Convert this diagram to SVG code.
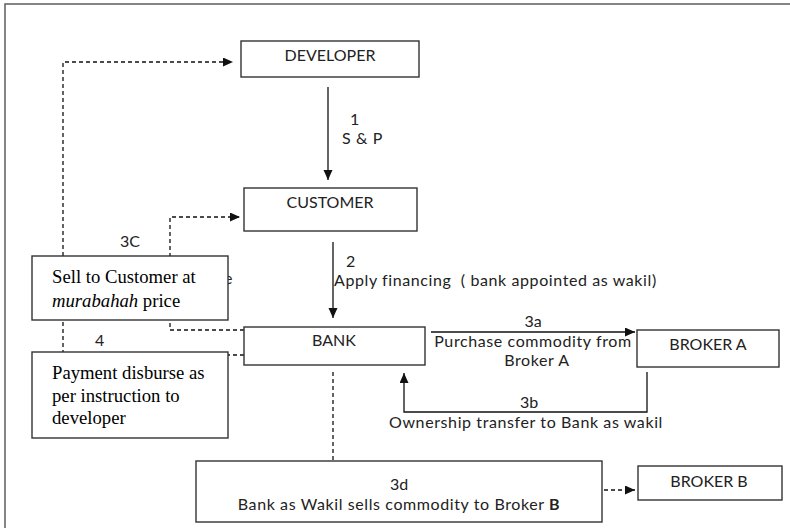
<svg xmlns="http://www.w3.org/2000/svg" width="790" height="528" viewBox="0 0 790 528">
<defs>
<style>
.box{fill:#fff;stroke:#333;stroke-width:1.4}
.lbl{font-family:Lato,"Liberation Sans",sans-serif;font-size:16px;fill:#222}
.sp{letter-spacing:0.6px}
.ser{font-family:"Liberation Serif","Times New Roman",serif;font-size:18.7px;fill:#000}
.ln{fill:none;stroke:#111;stroke-width:1.3}
.dash{fill:none;stroke:#111;stroke-width:1.3;stroke-dasharray:4 3}
</style>
<marker id="ah" markerUnits="userSpaceOnUse" markerWidth="12" markerHeight="10" refX="10" refY="4.5" orient="auto">
<path d="M0,0 L10,4.5 L0,9 Z" fill="#111"/>
</marker>
</defs>
<rect x="5" y="4" width="800" height="540" fill="none" stroke="#666" stroke-width="1.6"/>

<g id="connectors">
<line class="ln" x1="328" y1="87" x2="328" y2="180" marker-end="url(#ah)"/>
<line class="ln" x1="333" y1="242" x2="333" y2="318" marker-end="url(#ah)"/>
<line class="ln" x1="431" y1="332" x2="635" y2="332" marker-end="url(#ah)"/>
<polyline class="ln" points="647,372 647,412 404,412 404,373" marker-end="url(#ah)"/>
<polyline class="dash" points="244,355 63,355 63,62 233,62" marker-end="url(#ah)"/>
<polyline class="dash" points="244,330 170,330 170,217 240,217" marker-end="url(#ah)"/>
<line class="dash" x1="333" y1="372" x2="333" y2="461"/>
<line class="dash" x1="604" y1="490" x2="635" y2="490" marker-end="url(#ah)"/>
<text class="lbl" x="350" y="125">1</text>
<text class="lbl sp" x="342" y="144">S &amp; P</text>
<text class="lbl" x="346" y="267">2</text>
<text class="lbl sp" x="334" y="286">Apply financing&#160; ( bank appointed as wakil)</text>
<text class="lbl" x="120" y="247">3C</text>
<text class="lbl" x="95" y="346">4</text>
<text class="lbl" x="224" y="284">e</text>
<text class="lbl" x="533" y="327" text-anchor="middle">3a</text>
<text class="lbl sp" x="533" y="347" text-anchor="middle">Purchase commodity from</text>
<text class="lbl sp" x="537" y="366" text-anchor="middle">Broker A</text>
<text class="lbl" x="529" y="408" text-anchor="middle">3b</text>
<text class="lbl sp" x="526" y="428" text-anchor="middle">Ownership transfer to Bank as wakil</text>
</g>

<g id="developer">
<rect class="box" x="241" y="41" width="178" height="36"/>
<text class="lbl" x="330" y="61" text-anchor="middle">DEVELOPER</text>
</g>
<g id="customer">
<rect class="box" x="244" y="188" width="173" height="43"/>
<text class="lbl" x="330" y="208" text-anchor="middle">CUSTOMER</text>
</g>
<g id="bank">
<rect class="box" x="244" y="327" width="181" height="38"/>
<text class="lbl" x="334" y="346" text-anchor="middle">BANK</text>
</g>
<g id="broker-a">
<rect class="box" x="637" y="330" width="142" height="37"/>
<text class="lbl" x="708" y="350" text-anchor="middle">BROKER A</text>
</g>
<g id="broker-b">
<rect class="box" x="638" y="466" width="144" height="34"/>
<text class="lbl" x="709" y="487" text-anchor="middle">BROKER B</text>
</g>
<g id="sell-note">
<rect class="box" x="32" y="256" width="196" height="64"/>
<text class="ser" x="52" y="283">Sell to Customer at</text>
<text class="ser" x="52" y="307"><tspan font-style="italic">murabahah</tspan> price</text>
</g>
<g id="payment-note">
<rect class="box" x="32" y="352" width="196" height="86"/>
<text class="ser" x="52" y="379">Payment disburse as</text>
<text class="ser" x="52" y="402">per instruction to</text>
<text class="ser" x="52" y="424">developer</text>
</g>
<g id="wakil-sale">
<rect class="box" x="196" y="461" width="406" height="61"/>
<text class="lbl" x="399" y="490" text-anchor="middle">3d</text>
<text class="lbl sp" x="399" y="510" text-anchor="middle">Bank as Wakil sells commodity to Broker <tspan font-weight="bold">B</tspan></text>
</g>
</svg>
